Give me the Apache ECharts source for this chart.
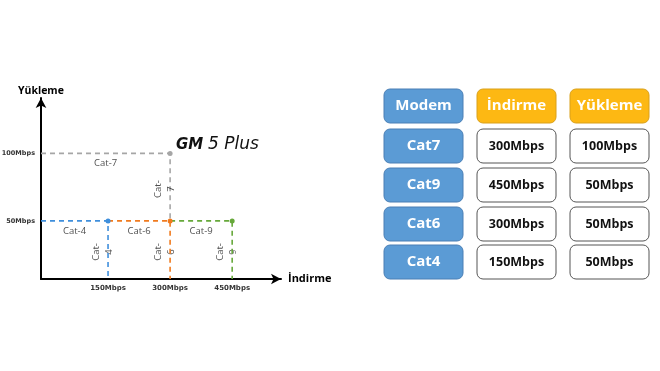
<!DOCTYPE html>
<html><head><meta charset="utf-8">
<script src="https://cdn.jsdelivr.net/npm/echarts@6/dist/echarts.min.js"></script>
<style>html,body{margin:0;padding:0;background:#fff}#c{width:660px;height:371px}</style>
</head><body><div id="c"></div>
<script>
// ---- data ----
var xTicks = [150, 300, 450];          // İndirme tick labels (Mbps)
var yTicks = [50, 100];                // Yükleme tick labels (Mbps)
var xMin = -12, xMax = 568, yMin = 7, yMax = 141;
// each category: start of horizontal run, download, upload, level where vertical ends
var catNames   = ['Cat-7', 'Cat-4', 'Cat-6', 'Cat-9'];
var catFrom    = [xMin, xMin, 150, 300];
var catDown    = [300, 150, 300, 450];
var catUp      = [100, 50, 50, 50];
var catVEnd    = [50, yMin, yMin, yMin];
var catColors  = ['#a6a6a6', '#3f8fdc', '#f07a1e', '#66a83a'];
// table
var tModem = ['Cat7', 'Cat9', 'Cat6', 'Cat4'];
var tDown  = ['300Mbps', '450Mbps', '300Mbps', '150Mbps'];
var tUp    = ['100Mbps', '50Mbps', '50Mbps', '50Mbps'];
var tHead  = ['Modem', 'İndirme', 'Yükleme'];

var chart = echarts.init(document.getElementById('c'));
var series = [];
catNames.forEach(function (n, i) {
  series.push({
    type: 'line', name: n, silent: true,
    data: [[catFrom[i], catUp[i]], [catDown[i], catUp[i]], [catDown[i], catVEnd[i]]],
    symbol: 'circle',
    symbolSize: function (v, p) { return p.dataIndex === 1 ? 5 : 0; },
    itemStyle: { color: catColors[i] },
    lineStyle: { color: catColors[i], width: 1.6, type: [5, 4] },
    z: i === 0 ? 2 : 3
  });
  // horizontal label (below segment, centered)
  series.push({
    type: 'scatter', silent: true, symbolSize: 0,
    data: [[(catFrom[i] + catDown[i]) / 2, catUp[i]]],
    label: { show: true, formatter: n, position: 'inside', offset: [0, 10],
      fontFamily: 'Open Sans', fontSize: 9.5, color: '#222' }
  });
  // vertical label (rotated, left of vertical segment)
  series.push({
    type: 'scatter', silent: true, symbolSize: 0,
    data: [[catDown[i], (catUp[i] + catVEnd[i]) / 2]],
    label: { show: true, formatter: n.replace('-', '-\n'), position: 'inside', rotate: 90,
      offset: [-2, -5], lineHeight: 13, align: 'center', verticalAlign: 'middle',
      fontFamily: 'Open Sans', fontSize: 9.5, color: '#222' }
  });
});

// table graphics
var colX = [384, 477, 570], colW = [79, 79, 79];
var rowY = [89, 129, 168, 207, 245], rowH = 34;
var g = [];
function cell(x, y, w, h, fill, stroke, text, tcolor, fs) {
  g.push({ type: 'rect', shape: { x: x, y: y, width: w, height: h, r: 6 },
    style: { fill: fill, stroke: stroke, lineWidth: 1 } });
  g.push({ type: 'text', x: x + w / 2, y: y + h / 2,
    style: { text: text, fill: tcolor, font: 'bold ' + fs + 'px "Open Sans"', textAlign: 'center', textVerticalAlign: 'middle' } });
}
cell(colX[0], rowY[0], colW[0], rowH, '#5b9bd5', '#4a7fb5', tHead[0], '#fff', 15);
cell(colX[1], rowY[0], colW[1], rowH, '#fdb813', '#d9a01a', tHead[1], '#fff', 15);
cell(colX[2], rowY[0], colW[2], rowH, '#fdb813', '#d9a01a', tHead[2], '#fff', 15);
for (var r = 0; r < tModem.length; r++) {
  cell(colX[0], rowY[r + 1], colW[0], rowH, '#5b9bd5', '#4a7fb5', tModem[r], '#fff', 15);
  cell(colX[1], rowY[r + 1], colW[1], rowH, '#fff', '#555', tDown[r], '#111', 12.5);
  cell(colX[2], rowY[r + 1], colW[2], rowH, '#fff', '#555', tUp[r], '#111', 12.5);
}
// axis titles and logo
g.push({ type: 'text', x: 18, y: 91, style: { text: 'Yükleme', font: 'bold 10.5px "Open Sans"', fill: '#000', textVerticalAlign: 'middle' } });
g.push({ type: 'text', x: 288, y: 279, style: { text: 'İndirme', font: 'bold 11px "Open Sans"', fill: '#000', textVerticalAlign: 'middle' } });
g.push({ type: 'text', x: 176, y: 145, style: { text: 'GM', font: 'italic 900 15px "DejaVu Sans"', fill: '#111', textVerticalAlign: 'middle' } });
g.push({ type: 'text', x: 208, y: 145, style: { text: '5 Plus', font: 'italic 300 17px "DejaVu Sans"', fill: '#111', textVerticalAlign: 'middle' } });

chart.setOption({
  animation: false,
  grid: { left: 41, top: 98, right: 379, bottom: 92, outerBoundsMode: 'none', containLabel: false },
  xAxis: {
    type: 'value', min: xMin, max: xMax,
    axisLine: { show: true, onZero: false, symbol: ['none', 'arrow'], symbolSize: [8, 10], lineStyle: { color: '#000', width: 2 } },
    axisTick: { show: false }, splitLine: { show: false },
    axisLabel: { customValues: xTicks, formatter: function (v) { return v + 'Mbps'; },
      fontFamily: 'DejaVu Sans', fontWeight: 'bold', fontSize: 7, color: '#333', margin: 6 }
  },
  yAxis: {
    type: 'value', min: yMin, max: yMax,
    axisLine: { show: true, onZero: false, symbol: ['none', 'arrow'], symbolSize: [8, 10], lineStyle: { color: '#000', width: 2 } },
    axisTick: { show: false }, splitLine: { show: false },
    axisLabel: { customValues: yTicks, formatter: function (v) { return v + 'Mbps'; },
      fontFamily: 'DejaVu Sans', fontWeight: 'bold', fontSize: 6.5, color: '#333', margin: 6 }
  },
  series: series,
  graphic: g
});
</script></body></html>
